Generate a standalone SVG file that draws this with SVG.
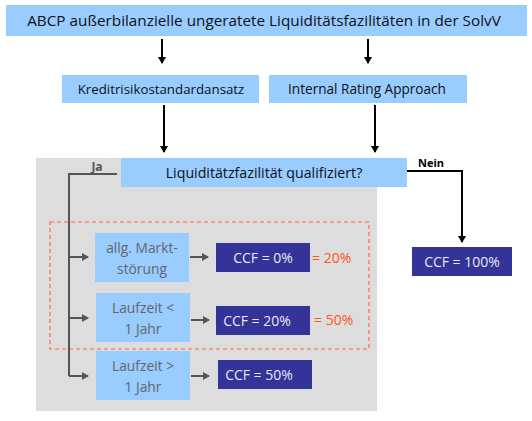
<svg xmlns="http://www.w3.org/2000/svg" width="532" height="421" viewBox="0 0 532 421">
<style>
.lb{fill:#99CCFF}
.nv{fill:#333399}
.t{font-family:"Open Sans","Liberation Sans",sans-serif;font-size:13px;fill:#111;text-anchor:middle}
.tg{font-family:"Open Sans","Liberation Sans",sans-serif;font-size:13.8px;fill:#666;text-anchor:middle}
.tw{font-family:"Open Sans","Liberation Sans",sans-serif;font-size:14px;fill:#E8E8F0;text-anchor:middle}
.to{font-family:"Open Sans","Liberation Sans",sans-serif;font-size:14px;fill:#FF5522}
.blk{stroke:#000;stroke-width:2;fill:none}
.gry{stroke:#555;stroke-width:2;fill:none}
</style>
<defs>
<marker id="ab" markerWidth="8" markerHeight="8" refX="6" refY="4" orient="auto" markerUnits="userSpaceOnUse"><path d="M0,0 L7,4 L0,8 Z" fill="#000"/></marker>
<marker id="ag" markerWidth="8" markerHeight="8" refX="6" refY="4" orient="auto" markerUnits="userSpaceOnUse"><path d="M0,0 L7,4 L0,8 Z" fill="#555"/></marker>
</defs>
<rect x="36" y="158" width="341" height="253" fill="#DDDDDD"/>
<rect x="50" y="222" width="319" height="127" fill="none" stroke="#FF6644" stroke-width="1.2" stroke-dasharray="4,3"/>
<g id="title"><rect class="lb" x="6" y="5" width="521" height="31"/><text class="t" x="264" y="26" style="font-size:15.3px">ABCP außerbilanzielle ungeratete Liquiditätsfazilitäten in der SolvV</text></g>
<g id="ksa"><rect class="lb" x="62" y="75" width="197" height="28"/><text class="t" x="161" y="94" style="font-size:13.3px">Kreditrisikostandardansatz</text></g>
<g id="irb"><rect class="lb" x="269" y="75" width="198" height="28"/><text class="t" x="367" y="94" style="font-size:13.6px">Internal Rating Approach</text></g>
<g id="q"><rect class="lb" x="121" y="158" width="286" height="29"/><text class="t" x="264" y="178" style="font-size:14.2px">Liquiditätzfazilität qualifiziert?</text></g>
<g id="markt"><rect class="lb" x="95" y="233" width="94" height="49"/><text class="tg" x="142" y="253">allg. Markt-</text><text class="tg" x="142" y="274">störung</text></g>
<g id="lz1"><rect class="lb" x="96" y="293" width="94" height="49"/><text class="tg" x="143" y="313">Laufzeit &lt;</text><text class="tg" x="143" y="334">1 Jahr</text></g>
<g id="lz2"><rect class="lb" x="96" y="351" width="94" height="49"/><text class="tg" x="143" y="371">Laufzeit &gt;</text><text class="tg" x="143" y="392">1 Jahr</text></g>
<g id="c0"><rect class="nv" x="216" y="243" width="94" height="29"/><text class="tw" x="263" y="263">CCF = 0%</text></g>
<g id="c20"><rect class="nv" x="216" y="306" width="94" height="29"/><text class="tw" x="257" y="326">CCF = 20%</text></g>
<g id="c50"><rect class="nv" x="218" y="360" width="94" height="29"/><text class="tw" x="259" y="380">CCF = 50%</text></g>
<g id="c100"><rect class="nv" x="412" y="247" width="100" height="29"/><text class="tw" x="462" y="267">CCF = 100%</text></g>
<text class="to" x="312" y="263">= 20%</text>
<text class="to" x="314" y="325">= 50%</text>
<g id="connectors">
<line class="blk" x1="162" y1="39" x2="162" y2="63" marker-end="url(#ab)"/>
<line class="blk" x1="368" y1="39" x2="368" y2="63" marker-end="url(#ab)"/>
<line class="blk" x1="164" y1="105" x2="164" y2="152" marker-end="url(#ab)"/>
<line class="blk" x1="375" y1="105" x2="375" y2="152" marker-end="url(#ab)"/>
<polyline class="blk" points="407,171 462,171 462,242" marker-end="url(#ab)"/>
<text x="418" y="167" font-family="'Open Sans','Liberation Sans',sans-serif" font-size="11" font-weight="bold" fill="#000">Nein</text>
<polyline class="gry" points="117,174 69,174 69,376"/>
<text x="97" y="171" font-family="'Open Sans','Liberation Sans',sans-serif" font-size="12" font-weight="bold" fill="#555" text-anchor="middle">Ja</text>
<line class="gry" x1="69" y1="257" x2="88" y2="257" marker-end="url(#ag)"/>
<line class="gry" x1="69" y1="318" x2="88" y2="318" marker-end="url(#ag)"/>
<line class="gry" x1="69" y1="376" x2="88" y2="376" marker-end="url(#ag)"/>
<line class="gry" x1="190" y1="257" x2="208" y2="257" marker-end="url(#ag)"/>
<line class="gry" x1="191" y1="320" x2="209" y2="320" marker-end="url(#ag)"/>
<line class="gry" x1="191" y1="376" x2="209" y2="376" marker-end="url(#ag)"/>
</g>
</svg>
